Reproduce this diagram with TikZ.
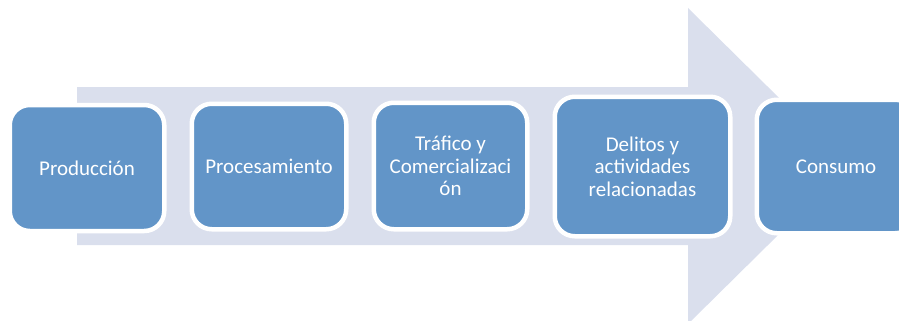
\documentclass[tikz,border=0pt]{standalone}
\usepackage{fontspec}
\setmainfont{Carlito}
\definecolor{boxblue}{HTML}{6295C8}
\definecolor{arrowgray}{HTML}{DADFED}
\begin{document}
\begin{tikzpicture}[x=1pt,y=-1pt,
  stage/.style={rectangle, rounded corners=20pt, fill=boxblue, draw=white,
    line width=4.5pt, text=white, align=center, inner sep=0pt,
    font=\fontsize{21}{22.3}\selectfont},
]
\useasboundingbox (0,0) rectangle (899,321);
\clip (0,0) rectangle (899,321);
\fill[arrowgray] (77,87) -- (688,87) -- (688,8) -- (848,166) -- (688,324) -- (688,245) -- (77,245) -- cycle;
\node[stage, minimum width=154.5pt, minimum height=126pt] (prod) at (87,168) {Producción};
\node[stage, minimum width=154.5pt, minimum height=125.5pt] (proc) at (269,166.5) {Procesamiento};
\node[stage, minimum width=153.5pt, minimum height=126.5pt] (traf) at (450.5,166) {Tráfico y\\Comercializaci\\ón};
\node[stage, minimum width=175.5pt, minimum height=139.5pt] (deli) at (642.5,166.5) {Delitos y\\actividades\\relacionadas};
\node[stage, minimum width=158.5pt, minimum height=133.5pt] (cons) at (836,166.5) {Consumo};
\end{tikzpicture}
\end{document}
